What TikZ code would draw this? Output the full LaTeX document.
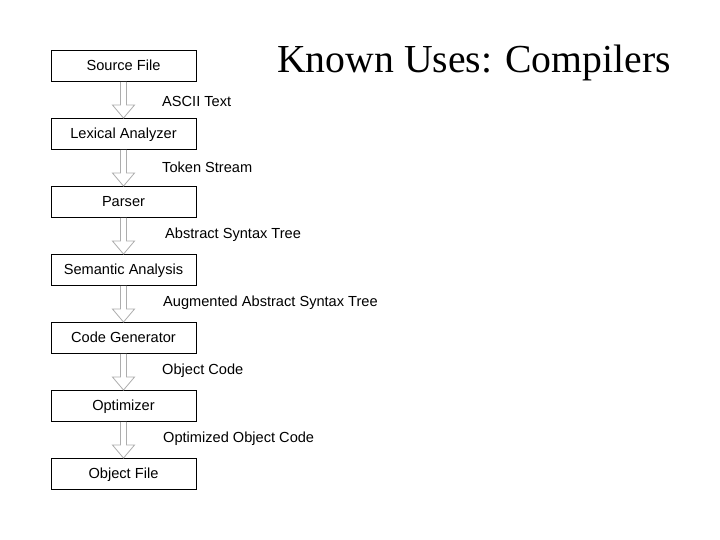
\documentclass[tikz,border=0pt]{standalone}
\usepackage{fontspec}
\setmainfont{Liberation Serif}
\newfontfamily\arialf{Liberation Sans}
\usetikzlibrary{calc}
\begin{document}
\begin{tikzpicture}[x=1pt,y=1pt,
  stage/.style={draw=black,line width=0.9pt,minimum width=145pt,minimum height=31pt,inner sep=0pt,text height=10.5pt,text depth=2pt,font=\arialf\fontsize{14.6}{16}\selectfont},
  lbl/.style={anchor=west,inner sep=0pt,font=\arialf\fontsize{14.6}{16}\selectfont},
  hollow/.style={draw=black!32,fill=white,line width=0.8pt,line join=miter}]
\useasboundingbox (0,0) rectangle (720,-540);
\node[stage] (s1) at (123.5,-66) {Source File};
\node[stage] (s2) at (123.5,-134) {Lexical Analyzer};
\node[stage] (s3) at (123.5,-202) {Parser};
\node[stage] (s4) at (123.5,-270) {Semantic Analysis};
\node[stage] (s5) at (123.5,-338) {Code Generator};
\node[stage] (s6) at (123.5,-406) {Optimizer};
\node[stage] (s7) at (123.5,-474) {Object File};
\foreach \a/\b in {s1/s2,s2/s3,s3/s4,s4/s5,s5/s6,s6/s7}{
  \draw[hollow] ($(\a.south)+(-3,0)$) -- ($(\b.north)+(-3,13)$) -- ($(\b.north)+(-11,13)$) -- (\b.north) -- ($(\b.north)+(11,13)$) -- ($(\b.north)+(3,13)$) -- ($(\a.south)+(3,0)$);
}
\node[lbl] (l1) at (162,-101.5) {ASCII Text};
\node[lbl] (l2) at (162,-167) {Token Stream};
\node[lbl] (l3) at (165,-235) {Abstract Syntax Tree};
\node[lbl] (l4) at (163,-303) {Augmented Abstract Syntax Tree};
\node[lbl] (l5) at (162,-371) {Object Code};
\node[lbl] (l6) at (163,-439) {Optimized Object Code};
\node[anchor=base west,inner sep=0pt,font=\fontsize{39.7}{44}\selectfont] (title) at (277,-73) {Known Uses: Compilers};
\end{tikzpicture}
\end{document}
